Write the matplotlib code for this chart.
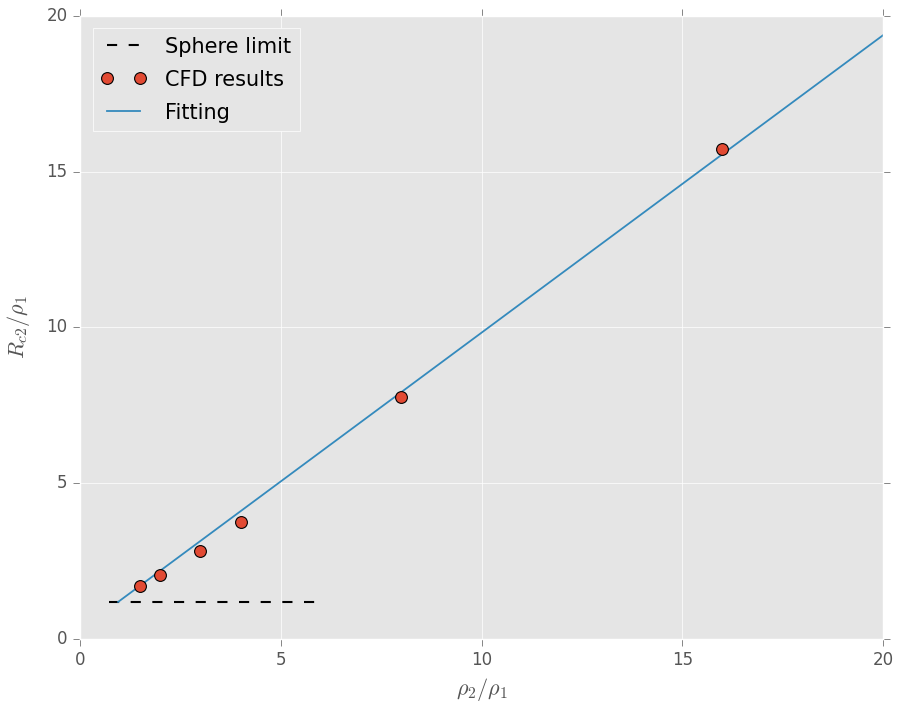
import matplotlib
matplotlib.use("Agg")
import matplotlib.pyplot as plt

plt.style.use("classic")
plt.style.use("ggplot")
plt.rcParams["mathtext.fontset"] = "cm"

# density ratio rho2/rho1 and critical radius from the CFD runs
cfd_ratio = [1.5, 2, 3, 4, 8, 16]
cfd_rc2 = [1.70, 2.05, 2.82, 3.76, 7.77, 15.73]

# linear fit, drawn between its two end points
fit_ratio = [0.95, 20]
fit_rc2 = [1.19, 19.38]

# sphere limit
sphere_ratio = [0.72, 5.9]
sphere_rc2 = [1.19, 1.19]

fig = plt.figure(figsize=(8.97, 7.08), dpi=100)
ax = fig.add_axes([0.0892, 0.0975, 0.8952, 0.88])

ax.plot(sphere_ratio, sphere_rc2, "k--", lw=1.5, dashes=(7.3, 8.3), label="Sphere limit")
ax.plot(cfd_ratio, cfd_rc2, "o", color="#E24A33", mec="k", mew=0.8, ms=8.5,
        label="CFD results", zorder=3)
ax.plot(fit_ratio, fit_rc2, "-", color="#348ABD", lw=1.3, label="Fitting")

ax.set_xlim(0, 20)
ax.set_ylim(0, 20)
ax.set_xticks([0, 5, 10, 15, 20])
ax.set_yticks([0, 5, 10, 15, 20])
ax.tick_params(direction="out", top=True, right=True, labelsize=12,
               colors="#555555", length=5)
for lab in ax.get_xticklabels() + ax.get_yticklabels():
    lab.set_color("#555555")

ax.set_xlabel(r"$\rho_2/\rho_1$", fontsize=16, color="#555555")
ax.set_ylabel(r"$R_{c2}/\rho_1$", fontsize=16, color="#555555", labelpad=10)

leg = ax.legend(loc="upper left", numpoints=2, fontsize=15, frameon=True,
                handlelength=2.2, handletextpad=0.9, borderaxespad=0.6,
                labelspacing=0.62)
leg.get_frame().set_facecolor("#E5E5E5")
leg.get_frame().set_edgecolor("white")

fig.savefig("out.png", dpi=100)
